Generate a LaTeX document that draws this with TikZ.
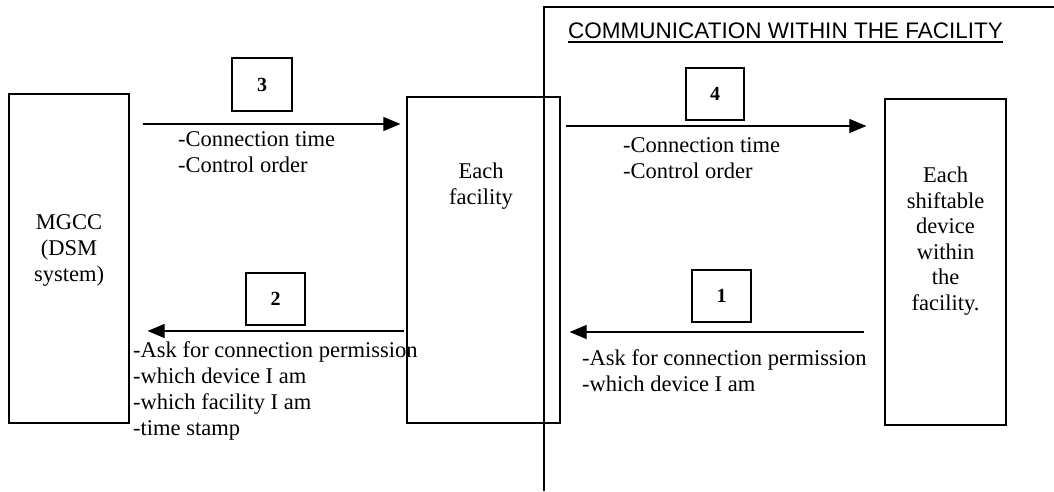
\documentclass[tikz,border=0pt]{standalone}
\usepackage{fontspec}
\setmainfont{Liberation Serif}
\newfontfamily\titlefont{Liberation Sans}
\usetikzlibrary{arrows.meta}
\begin{document}
\begin{tikzpicture}[x=1pt,y=-1pt,
  box/.style={draw, line width=1.2pt, inner sep=0pt},
  numbox/.style={draw, line width=1.2pt, inner sep=0pt, font=\fontsize{20}{24}\selectfont\bfseries},
  msg/.style={-{Triangle[length=17pt,width=14pt]}, line width=1.1pt},
  lbl/.style={inner sep=0pt, align=left, anchor=north west, font=\fontsize{22.5}{26}\selectfont},
  boxtxt/.style={inner sep=0pt, align=center, anchor=north, font=\fontsize{22.5}{25.6}\selectfont},
  region/.style={line width=1.2pt}]
\useasboundingbox (0,0) rectangle (1054,491);

% facility region
\draw[region] (544,491) -- (544,7) -- (1054,7);
\node[inner sep=0pt, anchor=base west, font=\titlefont\fontsize{22.5}{26}\selectfont] (title) at (568,38.5) {COMMUNICATION WITHIN THE FACILITY};
\draw[line width=1.3pt] ([yshift=-3.5pt]title.base west) -- ([yshift=-3.5pt]title.base east);

% main boxes
\node[box, minimum width=120pt, minimum height=329pt] (mgcc) at (69,258.5) {};
\node[box, minimum width=153pt, minimum height=326pt] (fac) at (483.5,260) {};
\node[box, minimum width=121pt, minimum height=326pt] (dev) at (945.5,262) {};

\node[boxtxt] (mgcctxt) at (69,214.8) {MGCC\\(DSM\\system)};
\node[boxtxt] (factxt) at (481,162.6) {Each\\facility};
\node[boxtxt] (devtxt) at (945.5,166.6) {Each\\shiftable\\device\\within\\the\\facility.};

% number boxes
\node[numbox, minimum width=60pt, minimum height=53pt] (n3) at (262,84.5) {3};
\node[numbox, minimum width=58pt, minimum height=52pt] (n4) at (715,94) {4};
\node[numbox, minimum width=59pt, minimum height=52pt] (n2) at (275.5,299) {2};
\node[numbox, minimum width=59pt, minimum height=52pt] (n1) at (721.5,296) {1};

% arrow levels
\coordinate (y3) at (0,124);
\coordinate (y4) at (0,126);
\coordinate (y2) at (0,331);
\coordinate (y1) at (0,332);

\draw[msg, shorten <=13pt, shorten >=6pt] (mgcc.east |- y3) -- (fac.west |- y3);
\draw[msg, shorten <=5pt, shorten >=18pt] (fac.east |- y4) -- (dev.west |- y4);
\draw[msg, shorten <=2pt, shorten >=18pt] (fac.west |- y2) -- (mgcc.east |- y2);
\draw[msg, shorten <=20pt, shorten >=9pt] (dev.west |- y1) -- (fac.east |- y1);

% message texts
\node[lbl] (t3) at (178,131.6) {-Connection time\\-Control order};
\node[lbl] (t4) at (623,137) {-Connection time\\-Control order};
\node[lbl] (t2) at (133,341.3) {-Ask for connection permission\\-which device I am\\-which facility I am\\-time stamp};
\node[lbl] (t1) at (582,349.6) {-Ask for connection permission\\-which device I am};
\end{tikzpicture}
\end{document}
